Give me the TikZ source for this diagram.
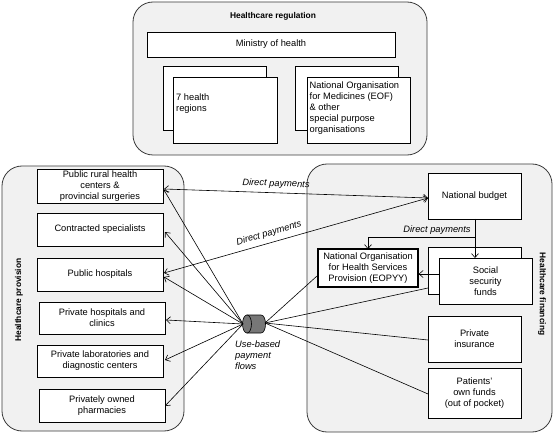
\documentclass[tikz,border=0pt]{standalone}
\usepackage{fontspec}
\setmainfont{Liberation Sans}
\usetikzlibrary{arrows.meta}
\definecolor{panelfill}{HTML}{F1F1F1}
\definecolor{paneldraw}{HTML}{3A3A3A}
\definecolor{cylfill}{HTML}{777777}
\begin{document}
\begin{tikzpicture}[x=1pt,y=-1pt,
  font=\fontsize{9.3}{11}\selectfont,
  panel/.style={draw=paneldraw,fill=panelfill,line width=0.8pt,rounded corners=20pt},
  box/.style={draw=black,fill=white,line width=0.6pt,inner sep=0pt,align=center},
  thickbox/.style={box,line width=1.3pt},
  ttl/.style={font=\fontsize{8.4}{10}\selectfont\bfseries},
  lbl/.style={font=\fontsize{9.3}{11}\selectfont\itshape,inner sep=0pt},
  conn/.style={line width=0.6pt},
  >={Straight Barb[length=4pt,width=7pt]}
]
\useasboundingbox (0,0) rectangle (555,433);

% ---------- panels ----------
\draw[panel] (133,2) rectangle (427,155);
\draw[panel] (2,166) rectangle (184,431);
\draw[panel] (307,164) rectangle (552,432);

% ---------- regulation ----------
\node[ttl] (tReg) at (273,16) {Healthcare regulation};
\node[box,minimum width=248pt,minimum height=25pt] (ministry) at (271,44.5) {Ministry of health};
\node[box,minimum width=103pt,minimum height=64pt] (regB) at (214.5,98) {};
\node[box,minimum width=104pt,minimum height=66pt] (regF) at (225,110) {};
\node[align=left,anchor=west,inner sep=0pt] (regT) at (176,104) {7 health\\regions};
\node[box,minimum width=103pt,minimum height=64pt] (eofB) at (346.5,98) {};
\node[box,minimum width=103pt,minimum height=66pt] (eofF) at (358.5,110) {};
\node[align=left,anchor=west,inner sep=0pt] (eofT) at (309.5,108) {National Organisation\\for Medicines (EOF)\\\& other\\special purpose\\organisations};

% ---------- provision ----------
\node[ttl,rotate=90] (tProv) at (19,300) {Healthcare provision};
\node[box,minimum width=126pt,minimum height=34pt] (rural) at (100,186) {Public rural health\\centers \&\\provincial surgeries};
\node[box,minimum width=126pt,minimum height=33pt] (contr) at (100,229.5) {Contracted specialists};
\node[box,minimum width=126pt,minimum height=33pt] (pubh) at (100,274.5) {Public hospitals};
\node[box,minimum width=126pt,minimum height=32pt] (privh) at (102,318) {Private hospitals and\\clinics};
\node[box,minimum width=126pt,minimum height=32pt] (labs) at (100,361) {Private laboratories and\\diagnostic centers};
\node[box,minimum width=126pt,minimum height=33pt] (pharm) at (102,405.5) {Privately owned\\pharmacies};

% ---------- financing ----------
\node[ttl,rotate=-90] (tFin) at (542,294) {Healthcare financing};
\node[box,minimum width=93pt,minimum height=46pt] (budget) at (474.5,196) {National budget};
\node[thickbox,minimum width=100pt,minimum height=38pt] (eopyy) at (368,268) {National Organisation\\for Health Services\\Provision (EOPYY)};
\node[box,minimum width=93pt,minimum height=47pt] (socB) at (474.5,270.5) {};
\node[box,minimum width=93pt,minimum height=46pt] (socF) at (485.5,281) {Social\\security\\funds};
\node[box,minimum width=93pt,minimum height=46pt] (privins) at (474.5,339) {Private\\insurance};
\node[box,minimum width=93pt,minimum height=50pt] (patients) at (474.5,393) {Patients'\\own funds\\(out of pocket)};

% ---------- cylinder ----------
\filldraw[fill=cylfill,line width=0.6pt] (247,315) -- (261,315)
  .. controls (267,315) and (267,333) .. (261,333) -- (247,333) -- cycle;
\filldraw[fill=cylfill,line width=0.6pt] (247,324) ellipse [x radius=4.5pt,y radius=9pt];
\coordinate (cL) at (243,324);
\coordinate (cR) at (265,323);
\node[lbl,align=left,anchor=north west] (cylT) at (235,341) {Use-based\\payment\\flows};

% ---------- connectors: direct payments ----------
\coordinate (bIn) at (428,198);
\coordinate (ruralIn) at (164,189);
\coordinate (pubhIn) at (164,273);
\draw[conn,<->] (ruralIn) -- (bIn);
\draw[conn,<->] (pubhIn) -- (bIn);
\node[lbl,rotate=-2] (dp1) at (276,184) {Direct payments};
\node[lbl,rotate=16] (dp2) at (269,233.5) {Direct payments};

\coordinate (bOut) at (475,219);
\coordinate (socIn) at (475,258);
\coordinate (br) at (475,237);
\coordinate (eoIn) at (368,249);
\draw[conn,->] (bOut) -- (socIn);
\draw[conn,->] (br) -| (eoIn);
\node[lbl] (dp3) at (437,230) {Direct payments};
\draw[conn,->] (socF.west |- 0,274) -- (eopyy.east |- 0,274);

% ---------- connectors: use-based flows ----------
\draw[conn,->] (cL) -- (164,190);
\draw[conn,->] (cL) -- (165,232);
\draw[conn,->] (cL) -- (164,277);
\draw[conn,->] (cL) -- (166,320);
\draw[conn,->] (cL) -- (165,360);
\draw[conn,->] (cL) -- (165,406);
\draw[conn] (cR) -- (317,276);
\draw[conn] (cR) -- (428,288);
\draw[conn] (cR) -- (428,340);
\draw[conn] (cR) -- (428,394);
\end{tikzpicture}
\end{document}
